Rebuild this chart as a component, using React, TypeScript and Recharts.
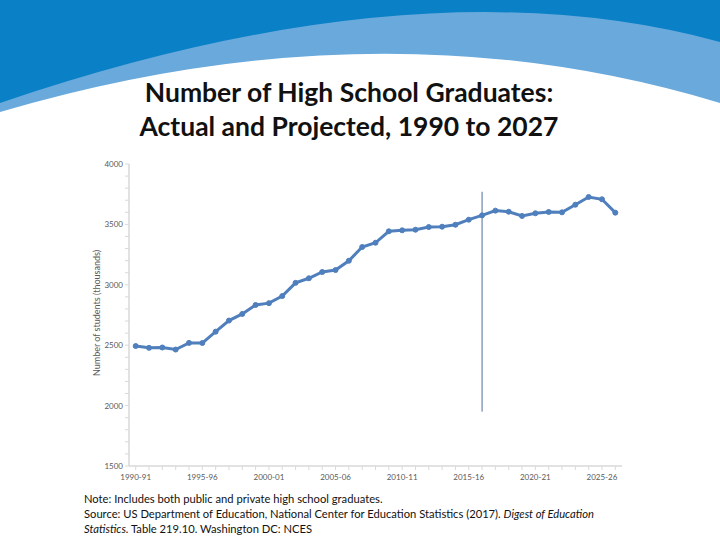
import React from 'react';
import { LineChart, Line, XAxis, YAxis, ReferenceLine } from 'recharts';

const years = [
  '1990-91', '1991-92', '1992-93', '1993-94', '1994-95', '1995-96', '1996-97', '1997-98',
  '1998-99', '1999-00', '2000-01', '2001-02', '2002-03', '2003-04', '2004-05', '2005-06',
  '2006-07', '2007-08', '2008-09', '2009-10', '2010-11', '2011-12', '2012-13', '2013-14',
  '2014-15', '2015-16', '2016-17', '2017-18', '2018-19', '2019-20', '2020-21', '2021-22',
  '2022-23', '2023-24', '2024-25', '2025-26', '2026-27',
];

const graduates = [
  2493, 2478, 2481, 2464, 2519, 2518, 2612, 2704,
  2759, 2833, 2848, 2907, 3016, 3054, 3106, 3122,
  3199, 3313, 3348, 3443, 3451, 3456, 3478, 3481,
  3497, 3539, 3575, 3614, 3605, 3570, 3592, 3603,
  3600, 3663, 3727, 3708, 3597,
];

const yTicks = [
  1500, 1600, 1700, 1800, 1900, 2000, 2100, 2200, 2300, 2400,
  2500, 2600, 2700, 2800, 2900, 3000, 3100, 3200, 3300, 3400,
  3500, 3600, 3700, 3800, 3900, 4000,
];
const yMajorLabels = [1500, 2000, 2500, 3000, 3500, 4000];
const xLabelEvery = 5;

const divider = { year: '2016-17', from: 1950, to: 3770 };

const data = years.map((year, i) => ({ year, value: graduates[i] }));

const FONT = 'Lato, "Open Sans", sans-serif';

const XTick = (props: any) => {
  const { x, y, payload, index } = props;
  if (index % xLabelEvery !== 0) return null;
  return (
    <text x={x} y={y + 8} textAnchor="middle" fontSize={8} fill="#595959" fontFamily={FONT}>
      {payload.value}
    </text>
  );
};

const YTick = (props: any) => {
  const { x, y, payload } = props;
  if (!yMajorLabels.includes(payload.value)) return null;
  return (
    <text x={x} y={y + 3} textAnchor="end" fontSize={8} fill="#595959" fontFamily={FONT}>
      {payload.value}
    </text>
  );
};

export default function App() {
  return (
    <div style={{ position: 'absolute', left: 0, top: 0, width: 720, height: 540, background: '#fff', overflow: 'hidden', fontFamily: FONT }}>
      <svg width={720} height={540} style={{ position: 'absolute', left: 0, top: 0 }}>
        <path d="M0,0 H720 V103 Q380,0 0,112 Z" fill="#69a9dc" />
        <path d="M0,0 H720 V42 Q420,-40 0,103 Z" fill="#0a80c6" />
      </svg>
      <div style={{ position: 'absolute', left: 0, width: 698, top: 75, textAlign: 'center', fontSize: 26.5, fontWeight: 700, lineHeight: '34px', color: '#111' }}>
        <div>Number of High School Graduates:</div>
        <div>Actual and Projected, 1990 to 2027</div>
      </div>
      <div style={{ position: 'absolute', left: 0, top: 0 }}>
        <LineChart width={720} height={540} data={data} margin={{ top: 164, right: 98, bottom: 0, left: 0 }}>
          <XAxis
            dataKey="year"
            interval={0}
            height={74}
            padding={{ left: 6.7, right: 6.7 }}
            tick={<XTick />}
            tickSize={4}
            axisLine={{ stroke: '#d9d9d9', strokeWidth: 1.5 }}
            tickLine={{ stroke: '#d9d9d9' }}
          />
          <YAxis
            width={129}
            domain={[1500, 4000]}
            ticks={yTicks}
            interval={0}
            tick={<YTick />}
            tickSize={4}
            axisLine={{ stroke: '#d9d9d9', strokeWidth: 1.5 }}
            tickLine={{ stroke: '#d9d9d9' }}
          />
          <ReferenceLine
            segment={[{ x: divider.year, y: divider.from }, { x: divider.year, y: divider.to }]}
            stroke="#4d6f99"
            strokeWidth={1}
          />
          <Line
            type="linear"
            dataKey="value"
            stroke="#4f7fbc"
            strokeWidth={3}
            dot={{ r: 2.5, fill: '#4f7fbc', stroke: '#4f7fbc', strokeWidth: 1 }}
            isAnimationActive={false}
          />
        </LineChart>
      </div>
      <div style={{ position: 'absolute', left: 96, top: 313, transform: 'translate(-50%, -50%) rotate(-90deg)', whiteSpace: 'nowrap', fontSize: 9, color: '#595959' }}>
        Number of students (thousands)
      </div>
      <div style={{ position: 'absolute', left: 84, top: 491, fontSize: 11.2, lineHeight: '15px', color: '#111', whiteSpace: 'nowrap' }}>
        <div>Note: Includes both public and private high school graduates.</div>
        <div>Source: US Department of Education, National Center for Education Statistics (2017). <i>Digest of Education</i></div>
        <div><i>Statistics.</i> Table 219.10. Washington DC: NCES</div>
      </div>
    </div>
  );
}
